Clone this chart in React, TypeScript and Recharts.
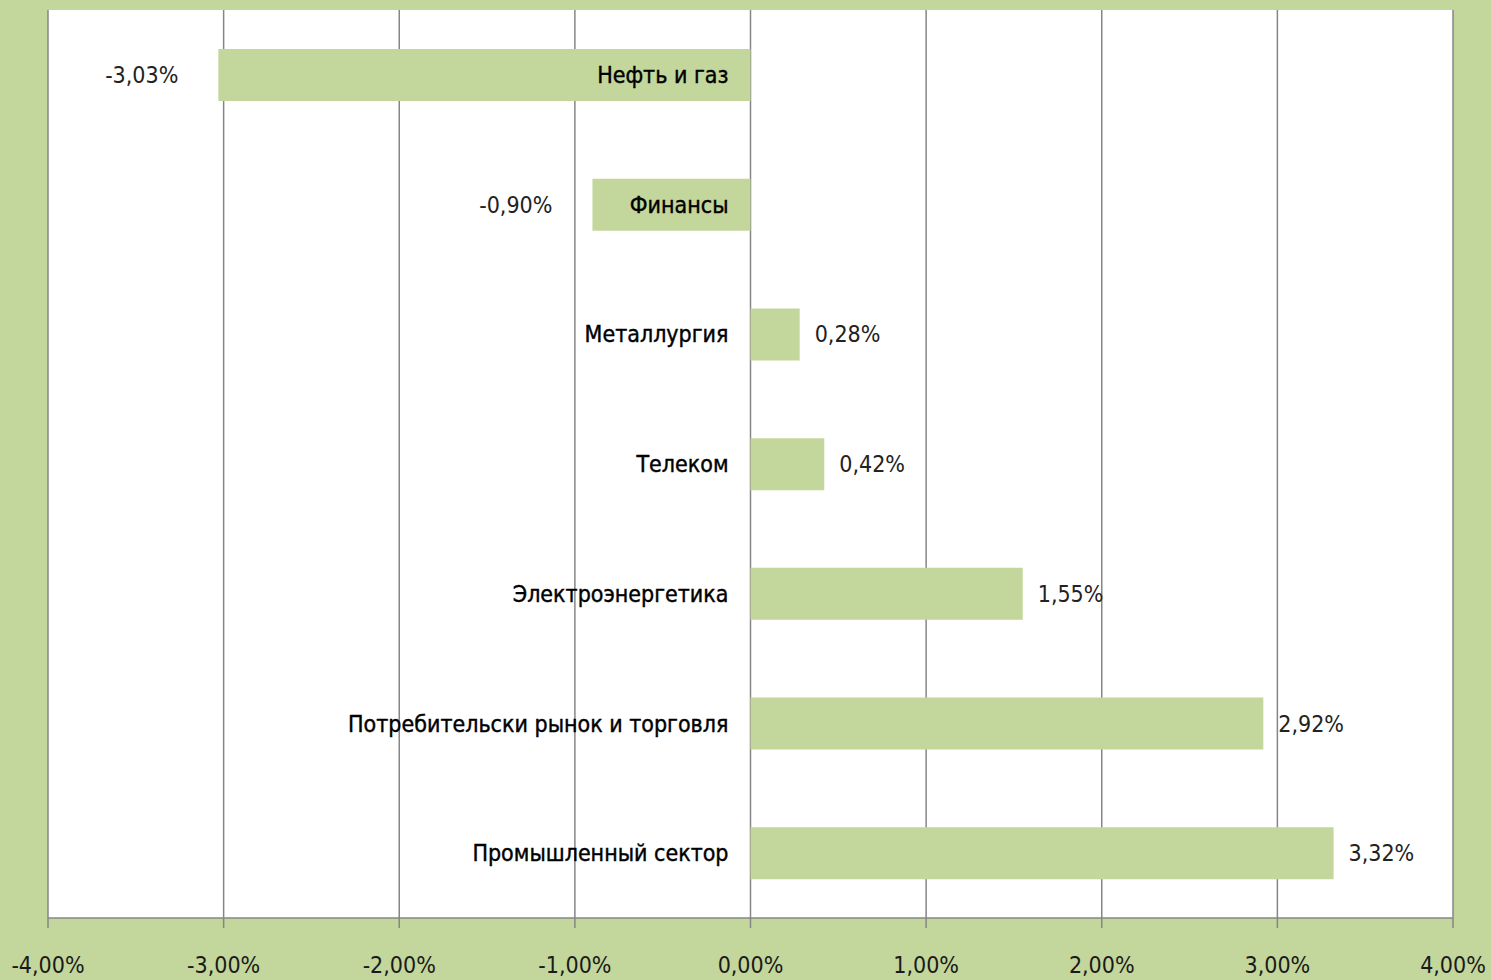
import { BarChart, Bar, XAxis, YAxis, CartesianGrid, LabelList } from 'recharts'

const sectors = [
  'Нефть и газ',
  'Финансы',
  'Металлургия',
  'Телеком',
  'Электроэнергетика',
  'Потребительски рынок и торговля',
  'Промышленный сектор',
]
const changes = [-3.03, -0.9, 0.28, 0.42, 1.55, 2.92, 3.32]
const xTicks = [-4, -3, -2, -1, 0, 1, 2, 3, 4]

const W = 1491
const H = 980
const M = { top: 10, right: 38, left: 48, bottom: 12 }
const X_AXIS_H = 50
const XMIN = -4
const XMAX = 4
const plotW = W - M.left - M.right
const plotH = H - M.top - M.bottom - X_AXIS_H
const zeroX = M.left + (plotW * (0 - XMIN)) / (XMAX - XMIN)
const band = plotH / sectors.length

const GREEN = '#c3d69b'
const FONT = '"DejaVu Sans Condensed", "Liberation Sans", sans-serif'
const FS = 23

const fmt = (v: number) => v.toFixed(2).replace('.', ',') + '%'

const data = sectors.map((name, i) => ({ name, value: changes[i] }))

function CategoryLabel(props: any) {
  const { y, height, index } = props
  return (
    <text
      x={zeroX - 22}
      y={y + height / 2}
      textAnchor="end"
      dominantBaseline="central"
      fontSize={FS}
      fontFamily={FONT}
      fill="#000"
      stroke="#000"
      strokeWidth={0.4}
    >
      {sectors[index]}
    </text>
  )
}

function ValueLabel(props: any) {
  const { x, y, width, height, index } = props
  const v = changes[index]
  const end = v < 0 ? Math.min(x, x + width) : Math.max(x, x + width)
  return (
    <text
      x={v < 0 ? end - 40 : end + 15}
      y={y + height / 2}
      textAnchor={v < 0 ? 'end' : 'start'}
      dominantBaseline="central"
      fontSize={FS}
      fontFamily={FONT}
      fill="#222"
    >
      {fmt(v)}
    </text>
  )
}

function CategoryTick(props: any) {
  const { y, index } = props
  if (index === 0) return <g />
  const ty = y - band / 2
  return <line x1={zeroX - 8} x2={zeroX} y1={ty} y2={ty} stroke="#868686" strokeWidth={1.5} />
}

export default function App() {
  return (
    <div style={{ position: 'fixed', left: 0, top: 0, width: W, height: H, background: GREEN }}>
      <BarChart width={W} height={H} data={data} layout="vertical" margin={M}>
        <CartesianGrid horizontal={false} stroke="#868686" strokeWidth={1.5} fill="#fff" />
        <XAxis
          type="number"
          domain={[XMIN, XMAX]}
          ticks={xTicks}
          tickFormatter={fmt}
          height={X_AXIS_H}
          stroke="#868686"
          strokeWidth={1.5}
          tickSize={10}
          tickMargin={29}
          tick={{ fontSize: FS, fontFamily: FONT, fill: '#1a1a1a' }}
        />
        <YAxis
          type="category"
          dataKey="name"
          width={0}
          axisLine={false}
          tickLine={false}
          tick={<CategoryTick />}
        />
        <Bar dataKey="value" fill={GREEN} barSize={52} isAnimationActive={false}>
          <LabelList dataKey="value" content={<CategoryLabel />} />
          <LabelList dataKey="value" content={<ValueLabel />} />
        </Bar>
      </BarChart>
    </div>
  )
}
